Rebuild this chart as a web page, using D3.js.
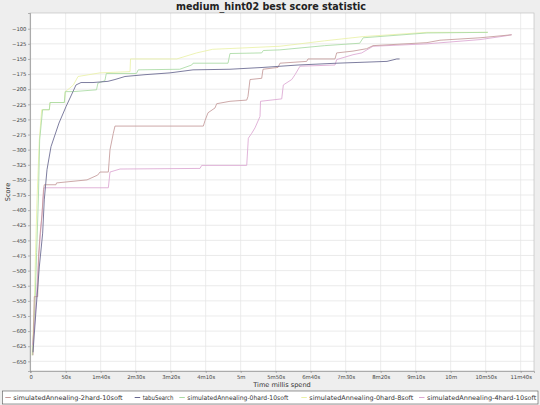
<!DOCTYPE html>
<html>
<head>
<meta charset="utf-8">
<script src="https://cdn.jsdelivr.net/npm/d3@7"></script>
<style>
  body { margin: 0; background: #eeeeee; }
  svg { display: block; font-family: "DejaVu Sans", sans-serif; }
</style>
</head>
<body>
<div id="viz"></div>
<script>
// series data: [time in seconds, best score]
var sa2hard10soft = [
  [3.3,-640],[5.1,-543],[10,-543],[11.1,-477],[13.3,-441],[16.1,-408],[18.3,-366],[19.4,-358],
  [36.1,-358],[36.9,-355],[80.4,-350],[95.7,-342],[99,-337],[110.9,-337],[113.3,-300],[118,-273],
  [120.4,-261],[246.6,-261],[249,-252],[253.3,-239],[263.3,-231],[265.7,-224],[284.7,-220],
  [308.6,-218],[310.4,-212],[313.3,-184],[330,-182],[331.9,-167],[353.3,-164],[356.1,-157],
  [394.3,-154],[396.1,-150],[434.7,-150],[437.1,-140],[460.4,-137],[480,-133],[489,-128],
  [566.1,-123],[584.7,-119],[641.9,-115],[687.1,-110]
];
var tabuSearch = [
  [3.3,-635],[7.6,-565],[12.3,-494],[17.1,-438],[19.4,-383],[23.3,-333],[29,-295],[40.4,-256],
  [50.4,-229],[60.4,-204],[64.7,-193],[71.9,-189],[89,-189],[110.4,-187],[120.4,-184],
  [134.7,-179],[163.3,-176],[199,-173],[231.9,-168],[284.7,-167],[331.9,-164],[381.9,-160],
  [437.6,-157],[509,-154],[523,-150],[527,-150]
];
var sa0hard10soft = [
  [2.5,-640],[6,-560],[8.5,-470],[11,-380],[12.8,-284],[17,-234],[26.6,-234],[27.6,-222],
  [48,-222],[49.4,-204],[61,-204],[94,-201],[96,-190],[106,-186],[108,-174],[151,-174],
  [153.7,-168],[213,-167],[230,-160],[231.9,-157],[281.9,-157],[284.7,-141],[330,-140],
  [332.3,-136],[356,-135],[420,-128],[470,-124],[475,-115],[566,-107],[653,-106]
];
var sa0hard8soft = [
  [1.9,-640],[5.4,-549],[7,-466],[9,-383],[12.3,-284],[15.7,-234],[26.6,-234],[27.6,-222],
  [48,-222],[49.4,-204],[56,-198],[61,-193],[67.6,-179],[99,-173],[141.9,-171],[142.6,-150],
  [208.6,-150],[237,-140],[260,-134],[299,-132],[356,-129],[420,-120],[475,-113],[566,-106],
  [653,-106]
];
var sa4hard10soft = [
  [2.6,-623],[6.1,-582],[10.4,-499],[13.3,-449],[16.1,-408],[17.6,-383],[19,-363],[110.9,-363],
  [113.3,-337],[127.6,-332],[241.9,-331],[244.3,-326],[308.6,-326],[310.9,-281],[315.7,-273],
  [320.4,-264],[327.6,-245],[328.3,-220],[358.6,-216],[360.9,-193],[372.9,-184],[377.6,-176],
  [384.7,-162],[434.7,-160],[437.1,-151],[460.4,-143],[472.9,-140],[489,-129],[566.1,-125],
  [641.9,-118],[677.6,-112],[687.1,-110]
];

var seriesNames = ['simulatedAnnealing-2hard-10soft', 'tabuSearch', 'simulatedAnnealing-0hard-10soft',
  'simulatedAnnealing-0hard-8soft', 'simulatedAnnealing-4hard-10soft'];
var seriesColors = ['#c49a9a', '#66668e', '#a9daa3', '#eaf1a8', '#dca6d2'];
var seriesData = [sa2hard10soft, tabuSearch, sa0hard10soft, sa0hard8soft, sa4hard10soft];

// tick values (seconds) and their labels
var xTickValues = [0, 50, 100, 150, 200, 250, 300, 350, 400, 450, 500, 550, 600, 650, 700];
var xTickLabels = ['0', '50s', '1m40s', '2m30s', '3m20s', '4m10s', '5m', '5m50s', '6m40s',
  '7m30s', '8m20s', '9m10s', '10m', '10m50s', '11m40s'];
var yTickValues = [-100, -125, -150, -175, -200, -225, -250, -275, -300, -325, -350, -375, -400,
  -425, -450, -475, -500, -525, -550, -575, -600, -625, -650];

var svg = d3.select('#viz').append('svg')
  .attr('width', 540)
  .attr('height', 405);

var plotLeft = 30, plotRight = 534, plotTop = 13, plotBottom = 371;

var x = d3.scaleLinear().domain([-1, 719]).range([plotLeft, plotRight]);
var y = d3.scaleLinear().domain([-666, -74]).range([plotBottom, plotTop]);

// title
svg.append('text')
  .attr('x', 271)
  .attr('y', 10)
  .attr('text-anchor', 'middle')
  .attr('font-size', '9.6px')
  .attr('font-weight', 'bold')
  .attr('fill', '#222')
  .text('medium_hint02 best score statistic');

// plot background
svg.append('rect')
  .attr('x', plotLeft).attr('y', plotTop)
  .attr('width', plotRight - plotLeft).attr('height', plotBottom - plotTop)
  .attr('fill', '#ffffff');

// grid
var grid = svg.append('g').attr('class', 'grid');
grid.selectAll('.vgrid').data(xTickValues).enter().append('line')
  .attr('x1', function(d) { return x(d); }).attr('x2', function(d) { return x(d); })
  .attr('y1', plotTop).attr('y2', plotBottom)
  .attr('stroke', '#e6e6e6').attr('stroke-width', 0.8);
grid.selectAll('.hgrid').data(yTickValues).enter().append('line')
  .attr('y1', function(d) { return y(d); }).attr('y2', function(d) { return y(d); })
  .attr('x1', plotLeft).attr('x2', plotRight)
  .attr('stroke', '#e6e6e6').attr('stroke-width', 0.8);

// plot border
svg.append('rect')
  .attr('x', plotLeft).attr('y', plotTop)
  .attr('width', plotRight - plotLeft).attr('height', plotBottom - plotTop)
  .attr('fill', 'none').attr('stroke', '#b8b8b8').attr('stroke-width', 0.6);

// axes
svg.append('g')
  .attr('class', 'axis xAxis')
  .attr('transform', 'translate(0,' + plotBottom + ')')
  .call(d3.axisBottom(x).tickValues(xTickValues)
    .tickFormat(function(d, i) { return xTickLabels[i]; })
    .tickSize(2).tickPadding(2));
svg.append('g')
  .attr('class', 'axis yAxis')
  .attr('transform', 'translate(' + plotLeft + ',0)')
  .call(d3.axisLeft(y).tickValues(yTickValues).tickSize(2).tickPadding(1.5));

svg.selectAll('.axis text')
  .attr('font-family', '"DejaVu Sans", sans-serif')
  .attr('font-size', '5.3px')
  .attr('fill', '#444');
svg.selectAll('.axis path, .axis line').attr('stroke', '#888').attr('stroke-width', 0.6);

// axis labels
svg.append('text')
  .attr('x', 282).attr('y', 387)
  .attr('text-anchor', 'middle')
  .attr('font-size', '6.6px')
  .attr('fill', '#333')
  .text('Time millis spend');
svg.append('text')
  .attr('transform', 'translate(10,192) rotate(-90)')
  .attr('text-anchor', 'middle')
  .attr('font-size', '6.6px')
  .attr('fill', '#333')
  .text('Score');

// series lines
var line = d3.line()
  .x(function(d) { return x(d[0]); })
  .y(function(d) { return y(d[1]); });

var plot = svg.append('g');
// pale ones first so the darker lines stay on top
[3, 2, 4, 0, 1].forEach(function(i) {
  plot.append('path')
    .datum(seriesData[i])
    .attr('fill', 'none')
    .attr('stroke', seriesColors[i])
    .attr('stroke-width', 0.85)
    .attr('d', line);
});

// legend
var legend = svg.append('g').attr('class', 'legend');
legend.append('rect')
  .attr('x', 2.5).attr('y', 391)
  .attr('width', 535.5).attr('height', 13)
  .attr('fill', '#ffffff').attr('stroke', '#555').attr('stroke-width', 0.6);

// legend item slots: [text start, text end]
var legendSlots = [[13.3, 122.7], [142.7, 173.5], [187.3, 288.3], [309.3, 413.3], [427, 536.3]];
legendSlots.forEach(function(s, i) {
  legend.append('line')
    .attr('x1', s[0] - 8).attr('x2', s[0] - 2.5)
    .attr('y1', 397.5).attr('y2', 397.5)
    .attr('stroke', seriesColors[i]).attr('stroke-width', 1);
  legend.append('text')
    .attr('x', s[0]).attr('y', 400)
    .attr('font-size', '6.4px')
    .attr('fill', '#333')
    .attr('textLength', s[1] - s[0])
    .attr('lengthAdjust', 'spacingAndGlyphs')
    .text(seriesNames[i]);
});
</script>
</body>
</html>
